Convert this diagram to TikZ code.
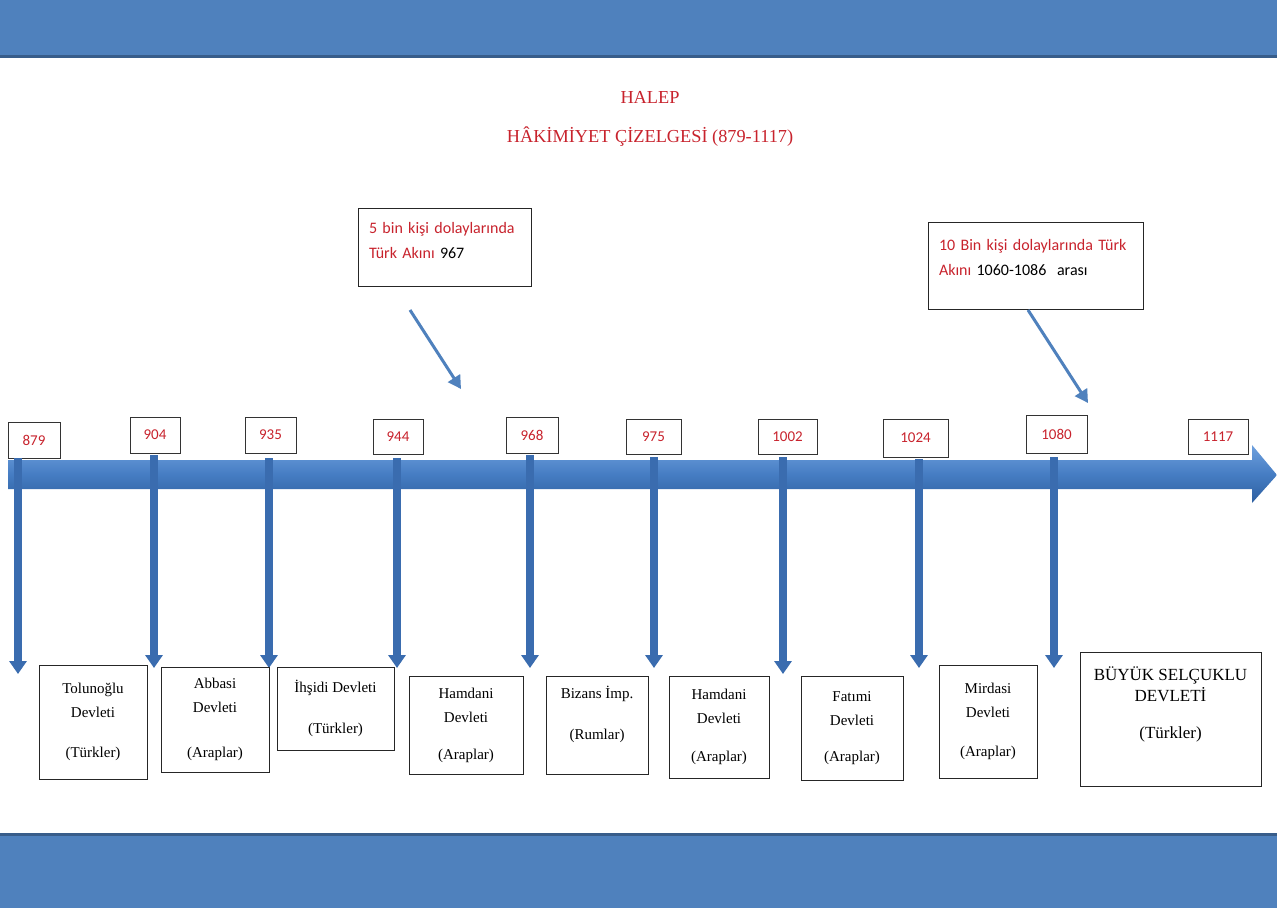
\documentclass[tikz,border=0pt]{standalone}
\usepackage{fontspec}
\setmainfont{Liberation Serif}
\newfontfamily\calibfont{Carlito}
\usetikzlibrary{arrows.meta}
\definecolor{bandblue}{RGB}{79,129,189}
\definecolor{banddark}{RGB}{56,93,138}
\definecolor{titlered}{RGB}{200,35,45}
\definecolor{axistop}{RGB}{110,160,222}
\definecolor{axismid}{RGB}{70,125,195}
\definecolor{axisbot}{RGB}{45,95,160}
\definecolor{arrowblue}{RGB}{58,108,175}
\begin{document}
\begin{tikzpicture}[x=1pt,y=-1pt,
  yearbox/.style={draw=black!80, line width=1pt, fill=white, inner sep=0pt,
    font=\calibfont\fontsize{15}{18}\selectfont, text=titlered},
  statebox/.style={draw=black!85, line width=1pt, fill=white, inner sep=0pt,
    align=center, font=\fontsize{15}{24}\selectfont},
  callout/.style={draw=black!85, line width=1pt, fill=white, inner xsep=11pt, inner ysep=0pt,
    align=left, font=\calibfont\fontsize{16}{25}\selectfont},
  vdown/.style={draw=arrowblue, line width=7.5pt, -{Triangle[width=17pt,length=13pt]}},
  pointer/.style={draw=bandblue, line width=3pt, -{Triangle[width=14pt,length=13pt]}},
  titletext/.style={text=titlered, font=\fontsize{18.3}{22}\selectfont}
]
\useasboundingbox (0,0) rectangle (1277,908);
\fill[white] (0,0) rectangle (1277,908);
% bands
\fill[bandblue] (0,0) rectangle (1277,56);
\fill[banddark] (0,55) rectangle (1277,58);
\fill[bandblue] (0,835) rectangle (1277,908);
\fill[banddark] (0,833) rectangle (1277,836);
% title
\node[titletext] (t1) at (650,97) {HALEP};
\node[titletext] (t2) at (650,137) {HÂKİMİYET ÇİZELGESİ (879-1117)};
% main axis arrow
\shade[top color=axistop, bottom color=axisbot, middle color=axismid]
  (8,460) -- (1252,460) -- (1252,445) -- (1277,475) -- (1252,503) -- (1252,489) -- (8,489) -- cycle;
% year boxes
\node[yearbox, minimum width=52pt, minimum height=36pt] (y879) at (34,440) {879};
\node[yearbox, minimum width=50pt, minimum height=36pt] (y904) at (155,435) {904};
\node[yearbox, minimum width=51pt, minimum height=36pt] (y935) at (270.5,435) {935};
\node[yearbox, minimum width=50pt, minimum height=35pt] (y944) at (398,436.5) {944};
\node[yearbox, minimum width=52pt, minimum height=36pt] (y968) at (532,435) {968};
\node[yearbox, minimum width=55pt, minimum height=35pt] (y975) at (653.5,436.5) {975};
\node[yearbox, minimum width=59pt, minimum height=35pt] (y1002) at (787.5,436.5) {1002};
\node[yearbox, minimum width=65pt, minimum height=38pt] (y1024) at (915.5,438) {1024};
\node[yearbox, minimum width=61pt, minimum height=38pt] (y1080) at (1056.5,434) {1080};
\node[yearbox, minimum width=60pt, minimum height=35pt] (y1117) at (1218,436.5) {1117};
% arrow coordinates
\coordinate (s879) at (18,458);   \coordinate (e879) at (18,674);
\coordinate (s904) at (154,455);  \coordinate (e904) at (154,668);
\coordinate (s935) at (269,458);  \coordinate (e935) at (269,668);
\coordinate (s944) at (397,458);  \coordinate (e944) at (397,668);
\coordinate (s968) at (530,455);  \coordinate (e968) at (530,668);
\coordinate (s975) at (654,457);  \coordinate (e975) at (654,668);
\coordinate (s1002) at (783,457); \coordinate (e1002) at (783,674);
\coordinate (s1024) at (919,459); \coordinate (e1024) at (919,668);
\coordinate (s1080) at (1054,457);\coordinate (e1080) at (1054,668);
\foreach \yr in {879,904,935,944,968,975,1002,1024,1080}
  {\draw[vdown] (s\yr) -- (e\yr);}
% state boxes
\node[statebox, minimum width=108pt, minimum height=114pt] (tol) at (93,722)
  {Tolunoğlu\\Devleti\\[16pt](Türkler)};
\node[statebox, minimum width=108pt, minimum height=105pt] (abb) at (215,719.5)
  {Abbasi\\Devleti\\[21pt](Araplar)};
\node[statebox, minimum width=117pt, minimum height=83pt] (ihs) at (335.5,708.5)
  {İhşidi Devleti\\[17pt](Türkler)};
\node[statebox, minimum width=114pt, minimum height=98pt] (ham1) at (466,725)
  {Hamdani\\Devleti\\[13pt](Araplar)};
\node[statebox, minimum width=102pt, minimum height=98pt] (biz) at (597,725)
  {Bizans İmp.\\[17pt](Rumlar)\\\mbox{}};
\node[statebox, minimum width=100pt, minimum height=102pt] (ham2) at (719,727)
  {Hamdani\\Devleti\\[14pt](Araplar)};
\node[statebox, minimum width=102pt, minimum height=104pt] (fat) at (852,728)
  {Fatımi\\Devleti\\[12pt](Araplar)};
\node[statebox, minimum width=98pt, minimum height=113pt] (mir) at (988,721.5)
  {Mirdasi\\Devleti\\[15pt](Araplar)};
\node[statebox, minimum width=181pt, minimum height=134pt, font=\fontsize{17}{21}\selectfont] (sel) at (1170.5,719)
  {BÜYÜK SELÇUKLU\\DEVLETİ\\[16pt](Türkler)\\[12pt]\mbox{}};
% callouts
\node[callout, text width=151pt, minimum height=78pt] (c1) at (444.5,247)
  {{\color{titlered}5 bin kişi dolaylarında}\\{\color{titlered}Türk Akını} 967\\[-12pt]\mbox{}};
\node[callout, text width=193pt, minimum height=87pt] (c2) at (1035.5,265.5)
  {{\color{titlered}10 Bin kişi dolaylarında Türk}\\{\color{titlered}Akını} 1060-1086\ \ arası\\[-8pt]\mbox{}};
\coordinate (p1s) at (410,310); \coordinate (p1e) at (461,389);
\coordinate (p2s) at (1028,310); \coordinate (p2e) at (1088,403);
\draw[pointer] (p1s) -- (p1e);
\draw[pointer] (p2s) -- (p2e);
\end{tikzpicture}
\end{document}
